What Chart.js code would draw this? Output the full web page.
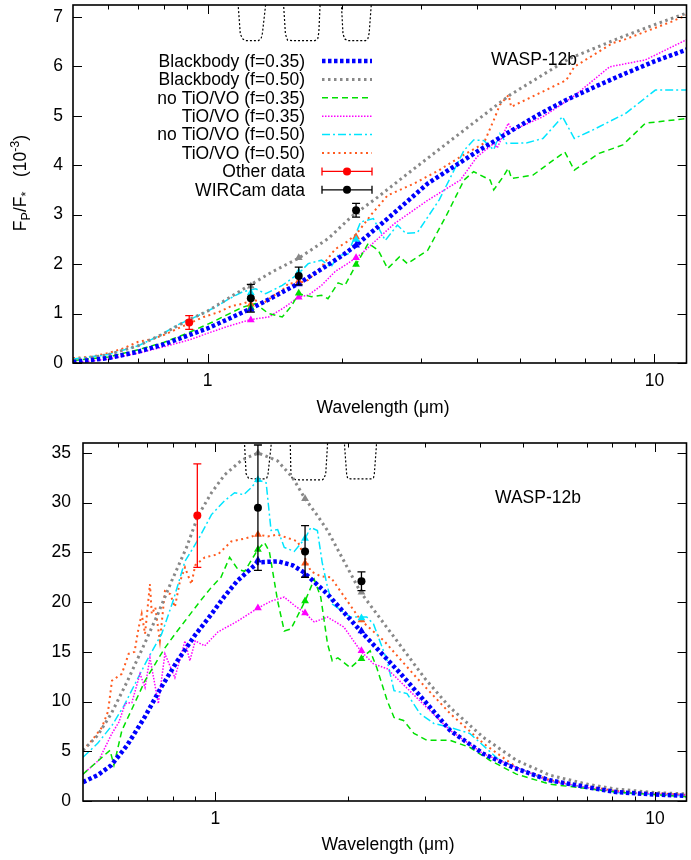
<!DOCTYPE html>
<html>
<head>
<meta charset="utf-8">
<title>WASP-12b dayside emission</title>
<script src="https://cdn.jsdelivr.net/npm/chart.js@4.4.1/dist/chart.umd.min.js"></script>
<style>
  html, body { margin: 0; padding: 0; background: #fff; overflow: hidden; }
  canvas { display: block; }
</style>
</head>
<body>
<canvas id="ratioChart" width="691" height="420"></canvas>
<canvas id="fluxChart" width="691" height="440"></canvas>
<script>
// ticks (wavelength in micron)
const xMajorTicks = [1, 10];
const xMinorTicks = [0.6, 0.7, 0.8, 0.9, 2, 3, 4, 5, 6, 7, 8, 9];
const ratioTicks = [0, 1, 2, 3, 4, 5, 6, 7];
const fluxTicks = [0, 5, 10, 15, 20, 25, 30, 35];

const modelLabels = ["Blackbody (f=0.35)", "Blackbody (f=0.50)", "no TiO/VO (f=0.35)",
  "TiO/VO (f=0.35)", "no TiO/VO (f=0.50)", "TiO/VO (f=0.50)"];
const dataLabels = ["Other data", "WIRCam data"];

// observations
const bandWave = [1.25, 1.60, 2.15];
const otherWave = [0.91];
const wircamRatio = [1.31, 1.76, 3.09];
const wircamRatioErr = [0.28, 0.18, 0.14];
const otherRatio = [0.82];
const otherRatioErr = [0.14];
const wircamFlux = [29.5, 25.1, 22.1];
const wircamFluxErr = [6.3, 2.6, 0.95];
const otherFlux = [28.7];
const otherFluxErr = [5.2];

// band-integrated model values (J, H, Ks)
const ratioBandBB35 = [1.08, 1.60, 2.38];
const ratioBandBB50 = [1.55, 2.13, 3.05];
const ratioBandNoTiO35 = [1.12, 1.41, 1.99];
const ratioBandTiO35 = [0.87, 1.33, 2.13];
const ratioBandNoTiO50 = [1.42, 1.84, 2.50];
const ratioBandTiO50 = [1.19, 1.66, 2.55];
const fluxBandBB35 = [24.2, 22.7, 17.1];
const fluxBandBB50 = [35.0, 30.4, 21.0];
const fluxBandNoTiO35 = [25.3, 20.1, 14.3];
const fluxBandTiO35 = [19.4, 18.9, 15.1];
const fluxBandNoTiO50 = [32.3, 26.4, 18.4];
const fluxBandTiO50 = [26.8, 23.9, 18.2];

// planet/star contrast curves, [wavelength, 1e-3]
const ratioBB35 = [[0.5,0.02],[0.6,0.1],[0.7,0.23],[0.8,0.38],[0.9,0.55],[1.0,0.7],[1.12,0.9],[1.25,1.1],[1.4,1.33],[1.6,1.61],[1.8,1.9],[2.0,2.17],[2.15,2.38],[2.5,2.88],[3.11,3.63],[4.0,4.27],[4.75,4.68],[5.5,5.02],[6.35,5.32],[7.5,5.62],[8.63,5.86],[10,6.1],[12,6.36]];
const ratioBB50 = [[0.5,0.05],[0.6,0.17],[0.7,0.35],[0.8,0.6],[0.9,0.86],[1.0,1.05],[1.1,1.28],[1.22,1.53],[1.4,1.85],[1.6,2.12],[1.865,2.52],[2.1,2.96],[2.4,3.35],[2.76,3.78],[3.5,4.5],[4.75,5.42],[6.46,6.16],[8.5,6.6],[10.2,6.87],[12,7.1]];
const ratioNoTiO35 = [[0.5,0.05],[0.6,0.12],[0.7,0.27],[0.8,0.42],[0.9,0.6],[1.027,0.83],[1.12,1.0],[1.198,1.13],[1.28,1.2],[1.37,1.0],[1.47,0.93],[1.54,1.15],[1.6,1.4],[1.71,1.34],[1.8,1.37],[1.86,1.3],[1.96,1.62],[2.03,1.57],[2.15,1.99],[2.29,2.42],[2.41,2.28],[2.53,1.91],[2.69,2.15],[2.8,2.01],[3.11,2.28],[3.44,3.02],[3.75,3.7],[3.94,3.87],[4.29,3.7],[4.37,3.5],[4.59,3.77],[4.71,3.94],[4.79,3.73],[5.35,3.8],[6.3,4.27],[6.62,3.9],[7.52,4.24],[8.5,4.41],[9.55,4.85],[12,4.95]];
const ratioTiO35 = [[0.5,0.0],[0.6,0.08],[0.7,0.2],[0.8,0.33],[0.912,0.47],[1.0,0.6],[1.1,0.73],[1.25,0.88],[1.37,0.93],[1.49,1.13],[1.6,1.34],[1.68,1.37],[1.8,1.57],[1.93,1.85],[2.05,2.0],[2.15,2.13],[2.21,2.21],[2.62,2.82],[3.11,3.29],[3.68,3.7],[4.01,4.17],[4.37,4.44],[4.45,4.35],[4.71,4.85],[4.8,4.7],[5.63,4.98],[6.57,5.38],[7.94,5.99],[9.55,6.13],[12,6.57]];
const ratioNoTiO50 = [[0.5,0.08],[0.6,0.17],[0.7,0.35],[0.78,0.55],[0.852,0.76],[0.976,1.0],[1.05,1.15],[1.119,1.3],[1.198,1.44],[1.282,1.5],[1.349,1.4],[1.47,1.57],[1.6,1.81],[1.68,2.01],[1.8,2.08],[1.89,1.94],[1.96,2.18],[2.06,2.2],[2.2,2.85],[2.35,2.92],[2.5,2.48],[2.66,2.79],[2.78,2.62],[2.95,2.64],[3.3,3.3],[3.75,4.3],[3.94,4.51],[4.15,4.5],[4.37,4.31],[4.51,4.64],[4.67,4.44],[5.17,4.45],[5.63,4.54],[6.23,4.98],[6.62,4.54],[7.27,4.71],[8.63,5.05],[10.05,5.52],[12,5.52]];
const ratioTiO50 = [[0.5,0.1],[0.55,0.13],[0.6,0.2],[0.65,0.3],[0.7,0.43],[0.75,0.48],[0.8,0.57],[0.85,0.68],[0.91,0.8],[0.98,0.93],[1.06,1.03],[1.13,1.15],[1.2,1.2],[1.27,1.28],[1.33,1.2],[1.4,1.35],[1.47,1.47],[1.52,1.62],[1.58,1.6],[1.68,1.68],[1.8,1.95],[1.93,2.3],[2.05,2.45],[2.15,2.6],[2.325,3.0],[2.53,3.39],[2.9,3.63],[3.3,3.9],[3.68,4.17],[4.15,4.44],[4.37,4.91],[4.51,5.22],[4.72,5.42],[4.78,5.18],[5.63,5.49],[6.35,5.72],[6.62,5.99],[8.07,6.47],[8.63,6.55],[10.9,6.9],[12,7.06]];

// dayside flux curves, [wavelength, 1e8 erg/s/cm2]
const fluxBB35 = [[0.5,1.9],[0.54,2.6],[0.58,3.6],[0.63,5.6],[0.69,8.4],[0.75,11.3],[0.82,14.1],[0.9,16.7],[0.98,18.8],[1.05,20.6],[1.12,22.1],[1.25,24.0],[1.39,24.1],[1.5,23.7],[1.59,23.0],[1.8,20.8],[2.14,17.1],[2.64,12.8],[3.0,10.0],[3.42,7.1],[4.07,4.75],[4.8,3.3],[5.76,2.08],[7,1.4],[8.16,0.9],[10,0.65],[12,0.5]];
const fluxBB50 = [[0.5,5.1],[0.54,6.6],[0.58,8.8],[0.63,12.0],[0.69,15.8],[0.74,18.8],[0.795,22.1],[0.86,25.5],[0.914,28.7],[0.98,31.0],[1.05,32.8],[1.15,34.3],[1.25,35.0],[1.386,34.2],[1.5,32.5],[1.6,30.4],[1.707,28.7],[1.8,27.2],[2.14,21.0],[2.64,15.6],[3.0,12.3],[3.42,9.4],[4.07,6.4],[4.84,4.1],[5.76,2.6],[7,1.7],[8.16,1.2],[10,0.85],[12,0.7]];
const fluxNoTiO35 = [[0.5,2.7],[0.543,4.1],[0.576,5.1],[0.588,3.6],[0.613,7.1],[0.65,9.5],[0.692,12.1],[0.73,13.8],[0.768,15.4],[0.81,16.8],[0.853,18.1],[0.92,20.0],[0.98,21.5],[1.03,22.5],[1.078,24.5],[1.125,23.3],[1.166,23.1],[1.25,25.3],[1.293,26.0],[1.327,25.1],[1.386,20.1],[1.435,17.1],[1.486,17.3],[1.6,20.1],[1.679,22.3],[1.737,20.5],[1.8,15.8],[1.845,14.1],[1.9,14.4],[2.03,13.4],[2.14,14.3],[2.25,15.1],[2.33,13.4],[2.46,10.1],[2.55,8.4],[2.68,8.1],[2.83,6.8],[3.03,6.1],[3.42,6.1],[3.79,5.4],[4.21,4.1],[4.84,2.7],[5.76,1.7],[8.16,0.9],[12,0.4]];
const fluxTiO35 = [[0.5,2.7],[0.543,4.1],[0.582,6.8],[0.603,7.9],[0.624,9.8],[0.646,9.9],[0.674,12.8],[0.692,11.4],[0.71,14.4],[0.742,9.8],[0.768,14.8],[0.809,12.4],[0.853,16.1],[0.875,14.1],[0.9,16.1],[0.946,15.6],[1.014,17.0],[1.125,18.1],[1.25,19.4],[1.339,20.1],[1.435,20.5],[1.52,19.6],[1.6,18.9],[1.679,18.0],[1.8,18.5],[1.83,18.3],[1.96,17.5],[2.14,15.1],[2.29,13.8],[2.46,13.3],[2.87,10.4],[3.42,7.1],[4.07,4.75],[5.76,2.0],[8.16,0.9],[12,0.55]];
const fluxNoTiO50 = [[0.5,4.4],[0.54,5.8],[0.582,7.6],[0.62,9.6],[0.657,11.8],[0.7,14.2],[0.755,16.8],[0.8,20.0],[0.853,24.1],[0.92,26.5],[0.98,28.8],[1.05,30.2],[1.106,31.0],[1.16,30.8],[1.206,31.5],[1.25,32.3],[1.305,32.0],[1.339,27.2],[1.386,27.3],[1.435,25.5],[1.512,25.1],[1.6,26.4],[1.649,27.5],[1.707,27.2],[1.75,24.0],[1.8,21.5],[1.845,19.8],[2.03,18.5],[2.21,18.5],[2.29,17.8],[2.46,14.1],[2.55,11.1],[2.73,10.8],[2.92,8.8],[3.14,7.8],[3.42,7.4],[3.79,6.8],[4.43,4.1],[5.76,2.0],[8.16,0.85],[12,0.5]];
const fluxTiO50 = [[0.5,5.1],[0.524,6.1],[0.552,7.4],[0.57,9.0],[0.582,12.1],[0.613,12.8],[0.635,14.8],[0.655,15.0],[0.669,17.4],[0.68,18.8],[0.692,16.8],[0.71,21.8],[0.717,18.8],[0.73,19.5],[0.748,16.1],[0.768,21.1],[0.79,20.8],[0.809,19.5],[0.83,22.0],[0.853,23.5],[0.882,21.8],[0.9,23.7],[0.946,24.5],[1.014,24.8],[1.087,26.1],[1.17,26.4],[1.25,26.8],[1.316,26.6],[1.386,26.8],[1.45,26.5],[1.54,26.1],[1.649,23.1],[1.737,22.6],[1.83,22.5],[2.14,18.2],[2.42,16.1],[2.87,12.4],[3.42,8.8],[4.07,5.8],[4.84,3.4],[5.76,2.1],[8.16,1.0],[12,0.6]];

// J, H, Ks filter profiles drawn along the top of each panel
const filterRatio = [[1.165,7.6],[1.171,7.24],[1.184,6.65],[1.2,6.55],[1.22,6.52],[1.3,6.52],[1.318,6.56],[1.327,6.67],[1.349,7.24],[1.355,7.6],
  [1.475,7.6],[1.48,7.24],[1.494,6.65],[1.51,6.53],[1.55,6.52],[1.74,6.52],[1.765,6.56],[1.775,6.7],[1.786,7.24],[1.79,7.6],
  [1.985,7.6],[1.994,7.24],[2.01,6.65],[2.03,6.55],[2.06,6.52],[2.26,6.52],[2.285,6.56],[2.3,6.67],[2.325,7.24],[2.335,7.6]];
const filterFlux = [[1.164,37],[1.166,35.7],[1.175,32.9],[1.19,32.45],[1.22,32.4],[1.3,32.4],[1.31,32.5],[1.318,32.9],[1.339,35.7],[1.342,37],
  [1.478,37],[1.481,35.7],[1.486,32.8],[1.5,32.35],[1.55,32.3],[1.75,32.3],[1.765,32.4],[1.783,32.9],[1.799,35.7],[1.803,37],
  [1.965,37],[1.968,35.7],[1.99,32.8],[2.0,32.45],[2.03,32.4],[2.27,32.4],[2.29,32.5],[2.3,32.9],[2.325,35.7],[2.33,37]];

const FONT = "'Liberation Sans', Arial, Helvetica, sans-serif";
const SIZE = 17.5;

// line styles per model, in legend order
const modelStyles = [
  { color: "#0000ff", width: 4.5, dash: [3.5, 2.5] },
  { color: "#888888", width: 3, dash: [2.5, 3.5] },
  { color: "#00e000", width: 1.5, dash: [6, 4] },
  { color: "#ff00ff", width: 1.5, dash: [1.5, 1.5] },
  { color: "#00e5ff", width: 1.5, dash: [8, 3, 2, 3] },
  { color: "#ff5a1e", width: 2, dash: [2, 3.5] }
];

const pts = arr => arr.map(([x, y]) => ({ x, y }));
const atBands = vals => vals.map((y, i) => ({ x: bandWave[i], y }));

function buildDatasets(curves, bands, wircam, wircamErr, other, otherErr, filter) {
  const sets = [
    { data: atBands(wircam), errors: wircamErr, pointRadius: 4, backgroundColor: "#000", borderColor: "#000", borderWidth: 0 },
    { data: otherWave.map((x, i) => ({ x, y: other[i] })), errors: otherErr, pointRadius: 4, backgroundColor: "#ff0000", borderColor: "#ff0000", borderWidth: 0 }
  ];
  bands.forEach((b, i) => sets.push({
    data: atBands(b), pointStyle: "triangle", pointRadius: 4.5,
    backgroundColor: modelStyles[i].color, borderColor: modelStyles[i].color, borderWidth: 0
  }));
  curves.forEach((c, i) => sets.push({
    data: pts(c), showLine: true, pointRadius: 0, fill: false, tension: 0,
    borderColor: modelStyles[i].color, borderWidth: modelStyles[i].width, borderDash: modelStyles[i].dash
  }));
  sets.push({ data: pts(filter), showLine: true, pointRadius: 0, borderColor: "#000", borderWidth: 1.2, borderDash: [2, 2] });
  return sets;
}

// inward ticks on all four sides plus the box
const frame = {
  id: "frame",
  afterDraw(chart) {
    const { ctx, chartArea: a, scales: { x, y } } = chart;
    ctx.save();
    ctx.strokeStyle = "#000";
    ctx.lineWidth = 1;
    ctx.beginPath();
    const vTick = (v, len) => {
      const px = Math.round(x.getPixelForValue(v)) + 0.5;
      ctx.moveTo(px, a.bottom); ctx.lineTo(px, a.bottom - len);
      ctx.moveTo(px, a.top); ctx.lineTo(px, a.top + len);
    };
    xMajorTicks.forEach(v => vTick(v, 9));
    xMinorTicks.forEach(v => vTick(v, 4.5));
    chart.options.plugins.frame.yTicks.forEach(v => {
      const py = Math.round(y.getPixelForValue(v)) + 0.5;
      ctx.moveTo(a.left, py); ctx.lineTo(a.left + 9, py);
      ctx.moveTo(a.right, py); ctx.lineTo(a.right - 9, py);
    });
    ctx.stroke();
    ctx.lineWidth = 1.6;
    ctx.strokeRect(a.left, a.top, a.right - a.left, a.bottom - a.top);
    ctx.restore();
  }
};

const errorBars = {
  id: "errorBars",
  afterDatasetsDraw(chart) {
    const { ctx, chartArea: a, scales: { x, y } } = chart;
    ctx.save();
    ctx.beginPath();
    ctx.rect(a.left, a.top, a.right - a.left, a.bottom - a.top);
    ctx.clip();
    chart.data.datasets.forEach(ds => {
      if (!ds.errors) return;
      ctx.strokeStyle = ds.borderColor;
      ctx.lineWidth = 1.3;
      ds.data.forEach((p, i) => {
        const px = x.getPixelForValue(p.x);
        const lo = y.getPixelForValue(p.y - ds.errors[i]);
        const hi = y.getPixelForValue(p.y + ds.errors[i]);
        ctx.beginPath();
        ctx.moveTo(px, lo); ctx.lineTo(px, hi);
        ctx.moveTo(px - 4, lo); ctx.lineTo(px + 4, lo);
        ctx.moveTo(px - 4, hi); ctx.lineTo(px + 4, hi);
        ctx.stroke();
      });
    });
    ctx.restore();
  }
};

function drawRich(ctx, parts, cx, cy, rotate) {
  ctx.save();
  ctx.translate(cx, cy);
  if (rotate) ctx.rotate(-Math.PI / 2);
  ctx.textBaseline = "alphabetic";
  ctx.textAlign = "left";
  ctx.fillStyle = "#000";
  const fontOf = p => (p.sub || p.sup ? 12.5 : SIZE) + "px " + FONT;
  let w = 0;
  parts.forEach(p => { ctx.font = fontOf(p); w += ctx.measureText(p.t).width; });
  let pos = -w / 2;
  parts.forEach(p => {
    ctx.font = fontOf(p);
    ctx.fillText(p.t, pos, p.sub ? 4 : p.sup ? -7 : 0);
    pos += ctx.measureText(p.t).width;
  });
  ctx.restore();
}

const labels = {
  id: "labels",
  afterDraw(chart) {
    const o = chart.options.plugins.labels;
    const ctx = chart.ctx;
    drawRich(ctx, o.yTitle, o.yTitleAt[0], o.yTitleAt[1], true);
    drawRich(ctx, [{ t: "Wavelength (\u03bcm)" }], o.xTitleAt[0], o.xTitleAt[1], false);
    drawRich(ctx, [{ t: "WASP-12b" }], o.targetAt[0], o.targetAt[1], false);
  }
};

// key box of the upper panel
const keyBox = {
  id: "keyBox",
  afterDraw(chart) {
    const { ctx } = chart;
    const right = 305, x0 = 322, x1 = 372, top = 61, step = 18.4;
    ctx.save();
    ctx.font = SIZE + "px " + FONT;
    ctx.textAlign = "right";
    ctx.textBaseline = "middle";
    ctx.fillStyle = "#000";
    modelLabels.forEach((label, i) => {
      const yy = top + i * step;
      ctx.fillText(label, right, yy + 1);
      const s = modelStyles[i];
      ctx.strokeStyle = s.color;
      ctx.lineWidth = s.width;
      ctx.setLineDash(s.dash);
      ctx.beginPath(); ctx.moveTo(x0, yy); ctx.lineTo(x1, yy); ctx.stroke();
    });
    ctx.setLineDash([]);
    ["#ff0000", "#000000"].forEach((c, j) => {
      const yy = top + (6 + j) * step;
      ctx.fillStyle = "#000";
      ctx.fillText(dataLabels[j], right, yy + 1);
      ctx.strokeStyle = c; ctx.fillStyle = c; ctx.lineWidth = 1.3;
      ctx.beginPath();
      ctx.moveTo(x0, yy); ctx.lineTo(x1, yy);
      ctx.moveTo(x0, yy - 4); ctx.lineTo(x0, yy + 4);
      ctx.moveTo(x1, yy - 4); ctx.lineTo(x1, yy + 4);
      ctx.stroke();
      ctx.beginPath(); ctx.arc((x0 + x1) / 2, yy, 4, 0, Math.PI * 2); ctx.fill();
    });
    ctx.restore();
  }
};

function makeChart(id, cfg) {
  const tickFont = { family: FONT, size: SIZE };
  return new Chart(document.getElementById(id), {
    type: "scatter",
    data: { datasets: cfg.datasets },
    plugins: cfg.plugins,
    options: {
      responsive: false,
      animation: false,
      events: [],
      layout: { padding: { top: cfg.padTop, right: 0, bottom: 0, left: 0 } },
      scales: {
        x: {
          type: "logarithmic", min: 0.5, max: 11.8,
          grid: { display: false, drawTicks: false }, border: { display: false },
          afterBuildTicks: s => { s.ticks = xMajorTicks.map(value => ({ value })); },
          afterFit: s => { s.height = cfg.xHeight; s.paddingLeft = 0; s.paddingRight = 0; },
          ticks: { callback: v => String(v), autoSkip: false, maxRotation: 0, padding: 8, color: "#000", font: tickFont }
        },
        y: {
          type: "linear", min: 0, max: cfg.yMax,
          grid: { display: false, drawTicks: false }, border: { display: false },
          afterBuildTicks: s => { s.ticks = cfg.yTicks.map(value => ({ value })); },
          afterFit: s => { s.width = cfg.yWidth; s.paddingTop = 0; s.paddingBottom = 0; },
          ticks: { padding: cfg.yPad, color: "#000", font: tickFont }
        }
      },
      plugins: {
        legend: { display: false },
        tooltip: { enabled: false },
        frame: { yTicks: cfg.yTicks },
        labels: cfg.labels
      }
    }
  });
}

makeChart("ratioChart", {
  datasets: buildDatasets(
    [ratioBB35, ratioBB50, ratioNoTiO35, ratioTiO35, ratioNoTiO50, ratioTiO50],
    [ratioBandBB35, ratioBandBB50, ratioBandNoTiO35, ratioBandTiO35, ratioBandNoTiO50, ratioBandTiO50],
    wircamRatio, wircamRatioErr, otherRatio, otherRatioErr, filterRatio),
  plugins: [errorBars, frame, labels, keyBox],
  padTop: 5, xHeight: 57, yWidth: 73, yPad: 10, yMax: 7.24, yTicks: ratioTicks,
  labels: {
    yTitle: [{ t: "F" }, { t: "P", sub: true }, { t: "/F" }, { t: "*", sub: true }, { t: "   (10" }, { t: "-3", sup: true }, { t: ")" }],
    yTitleAt: [26, 183], xTitleAt: [383, 413], targetAt: [534, 65]
  }
});

makeChart("fluxChart", {
  datasets: buildDatasets(
    [fluxBB35, fluxBB50, fluxNoTiO35, fluxTiO35, fluxNoTiO50, fluxTiO50],
    [fluxBandBB35, fluxBandBB50, fluxBandNoTiO35, fluxBandTiO35, fluxBandNoTiO50, fluxBandTiO50],
    wircamFlux, wircamFluxErr, otherFlux, otherFluxErr, filterFlux),
  plugins: [errorBars, frame, labels],
  padTop: 23, xHeight: 59, yWidth: 83, yPad: 12, yMax: 36, yTicks: fluxTicks,
  labels: {
    yTitle: [{ t: "Dayside Flux (10" }, { t: "8", sup: true }, { t: " erg/s/cm" }, { t: "2", sup: true }, { t: ")" }],
    yTitleAt: [26, 621], xTitleAt: [388, 430], targetAt: [538, 83]
  }
});
</script>
</body>
</html>
